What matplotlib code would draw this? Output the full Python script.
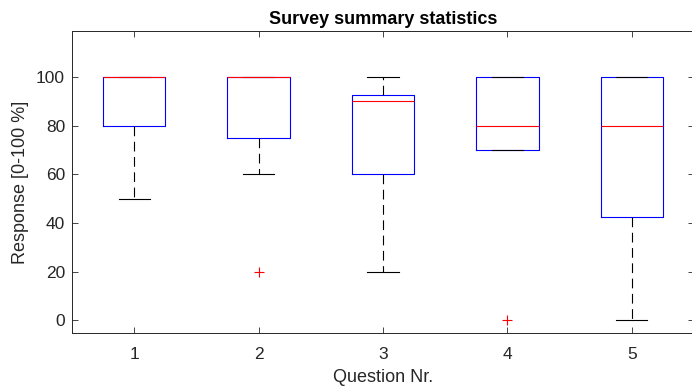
import matplotlib.pyplot as plt
import numpy as np

plt.rcParams['font.family'] = ['Liberation Sans', 'DejaVu Sans']
plt.rcParams['lines.scale_dashes'] = False

# box statistics
questions = ['1', '2', '3', '4', '5']
lower_whisker = [50, 60, 20, 70, 0]
q1 = [80, 75, 60, 70, 42.5]
median = [100, 100, 90, 80, 80]
q3 = [100, 100, 92.5, 100, 100]
upper_whisker = [100, 100, 100, 100, 100]
outliers = [[], [20], [], [0], []]

stats = []
for i in range(len(questions)):
    stats.append({'whislo': lower_whisker[i], 'q1': q1[i], 'med': median[i],
                  'q3': q3[i], 'whishi': upper_whisker[i], 'fliers': outliers[i],
                  'label': questions[i]})

grey = '#262626'
fig = plt.figure(figsize=(6.92, 3.90), dpi=100)
ax = fig.add_axes([72/692, 57/390, 622/692, 302/390])

ax.bxp(stats, positions=np.arange(1, 6), widths=0.5, showfliers=True,
       boxprops=dict(color='blue', linewidth=0.8),
       medianprops=dict(color='red', linewidth=0.8),
       whiskerprops=dict(color='black', linewidth=0.8, linestyle=(0, (7, 4))),
       capprops=dict(color='black', linewidth=0.8),
       capwidths=0.25,
       flierprops=dict(marker='+', markeredgecolor='red', markersize=7,
                       markeredgewidth=0.8, linestyle='none'))

ax.set_xlim(0.5, 5.5)
ax.set_ylim(-5.3, 119)
ax.set_yticks([0, 20, 40, 60, 80, 100])
ax.tick_params(direction='in', top=True, right=True, length=4, width=0.6,
               colors=grey, labelsize=12.5, pad=5)
ax.tick_params(axis='x', pad=10)
for s in ax.spines.values():
    s.set_color(grey)
    s.set_linewidth(0.7)

ax.set_title('Survey summary statistics', fontsize=13, fontweight='bold', pad=5)
ax.set_xlabel('Question Nr.', fontsize=13, color=grey, labelpad=5)
ax.set_ylabel('Response [0-100 %]', fontsize=13, color=grey, labelpad=5)

fig.savefig('out.png', dpi=100)
